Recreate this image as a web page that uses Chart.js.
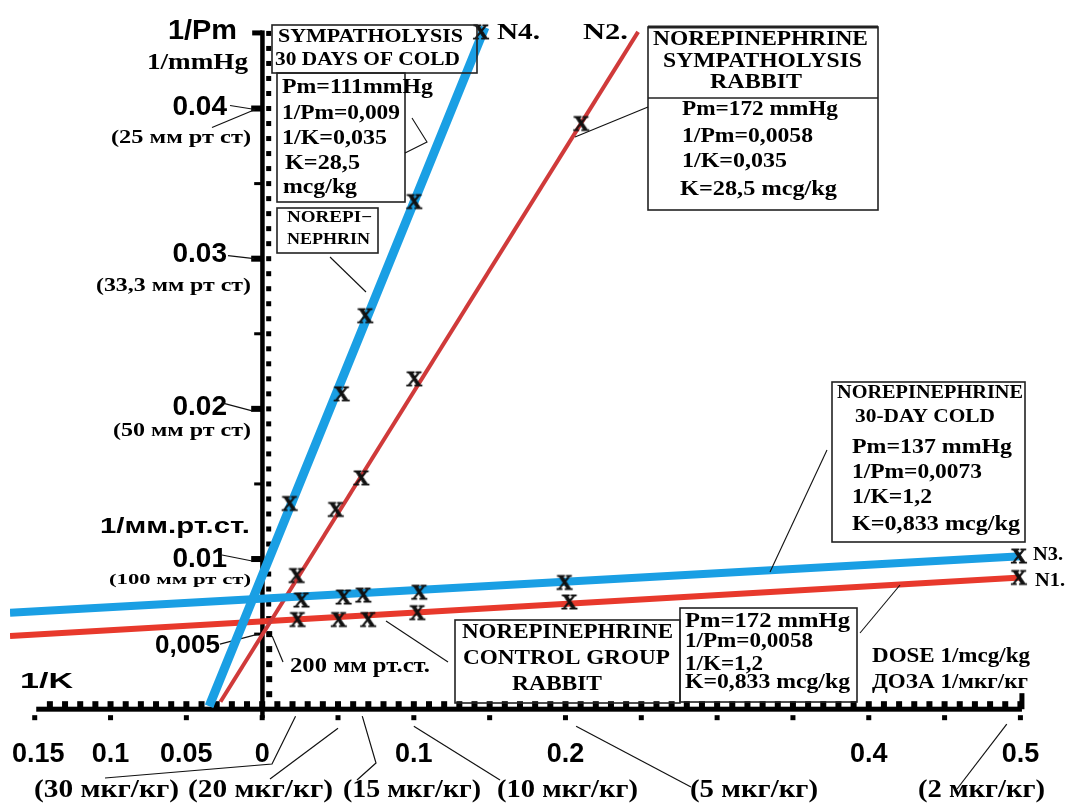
<!DOCTYPE html>
<html>
<head>
<meta charset="utf-8">
<script src="https://cdn.jsdelivr.net/npm/chart.js@4.4.0/dist/chart.umd.min.js"></script>
<style>
  html, body { margin: 0; padding: 0; background: #fff; }
  #wrap { width: 1080px; height: 805px; }
</style>
</head>
<body>
<div id="wrap"><canvas id="myChart" width="1080" height="805"></canvas></div>
<script>
// valores: x = 1/dosis (1/mcg/kg), y = 1/Pm (1/mmHg)
const n4X = [0.0181, 0.0524, 0.0680, 0.1003, 0.1443];
const n4Y = [0.0137, 0.0210, 0.0262, 0.0338, 0.0451];
const n2X = [0.0227, 0.0485, 0.0654, 0.1003, 0.2104];
const n2Y = [0.0089, 0.0133, 0.0154, 0.0220, 0.0390];
const n3X = [0.0259, 0.0537, 0.0667, 0.1036, 0.1994, 0.4990];
const n3Y = [0.00727, 0.00747, 0.00760, 0.00779, 0.00844, 0.01020];
const n1X = [0.0233, 0.0505, 0.0699, 0.1023, 0.2026, 0.4990];
const n1Y = [0.00597, 0.00597, 0.00597, 0.00643, 0.00714, 0.00877];

// rectas ajustadas (extremos tal como se ven)
const n4LineX = [-0.0350, 0.1469];
const n4LineY = [0.0002, 0.0454];
const n2LineX = [-0.0275, 0.2479];
const n2LineY = [0.0005, 0.0451];
const n3LineX = [-0.1663, 0.5003];
const n3LineY = [0.00643, 0.01019];
const n1LineX = [-0.1663, 0.5003];
const n1LineY = [0.00487, 0.00877];

// etiquetas de ejes
const xTicks = [-0.15, -0.1, -0.05, 0, 0.1, 0.2, 0.4, 0.5];
const xTickLabels = ['0.15', '0.1', '0.05', '0', '0.1', '0.2', '0.4', '0.5'];
const yTicks = [0.04, 0.03, 0.02, 0.01, 0.005];
const yTickLabels = ['0.04', '0.03', '0.02', '0.01', '0,005'];
const yMmLabels = ['(25 мм рт ст)', '(33,3 мм рт ст)', '(50 мм рт ст)', '(100 мм рт ст)'];
const doseTicks = [0.022, 0.05, 0.066, 0.1, 0.207, 0.491];
const doseLabels = ['(30 мкг/кг)', '(20 мкг/кг)', '(15 мкг/кг)', '(10 мкг/кг)', '(5 мкг/кг)', '(2 мкг/кг)'];

const BLUE = '#1a9fe4';
const RED_STEEP = '#d03a3a';
const RED_FLAT = '#e8392c';
const SERIF = '"Liberation Serif", "DejaVu Serif", serif';
const SANS = '"Liberation Sans", Arial, sans-serif';

// marca "X" como imagen para los puntos
const xMark = document.createElement('canvas');
xMark.width = 20;
xMark.height = 20;
const mc = xMark.getContext('2d');
mc.font = 'bold 22px ' + SERIF;
mc.textAlign = 'center';
mc.textBaseline = 'middle';
mc.fillStyle = '#111';
mc.strokeStyle = '#111';
mc.lineWidth = 0.9;
mc.fillText('X', 10, 11);
mc.strokeText('X', 10, 11);

const pts = (xs, ys) => xs.map((v, i) => ({ x: v, y: ys[i] }));

function put(ctx, s, x, y, w, font) {
  ctx.font = font;
  const m = ctx.measureText(s).width;
  ctx.save();
  ctx.translate(x, y);
  if (w) ctx.scale(w / m, 1);
  ctx.fillText(s, 0, 0);
  ctx.restore();
}

function path(ctx, p) {
  ctx.beginPath();
  ctx.moveTo(p[0][0], p[0][1]);
  for (let i = 1; i < p.length; i++) ctx.lineTo(p[i][0], p[i][1]);
  ctx.stroke();
}

// ejes dibujados a partir de las escalas del grafico
const axesPlugin = {
  id: 'axes',
  beforeDatasetsDraw(chart) {
    const { ctx, scales: { x, y } } = chart;
    const x0 = x.getPixelForValue(0);
    const y0 = y.getPixelForValue(0);
    ctx.save();
    ctx.fillStyle = '#000';
    const xl = x.getPixelForValue(-0.149);
    const xr = x.getPixelForValue(0.501);
    ctx.fillRect(xl, y0 - 2.5, xr - xl, 5);
    for (let i = -14; i <= 50; i++) {
      const px = x.getPixelForValue(i / 100);
      ctx.fillRect(px - 3, y0 - 8, 6, 6);
    }
    for (let i = -3; i <= 10; i++) {
      const px = x.getPixelForValue(i * 0.05);
      ctx.fillRect(px - 2.5, y0 + 6, 5, 5);
    }
    ctx.fillRect(xr - 2.5, y0 - 16, 5, 16);

    const yt = y.getPixelForValue(0.0452);
    ctx.fillRect(x0 - 2, yt, 4.5, y0 - yt + 9);
    ctx.fillRect(x0 - 10, yt, 10, 5);
    for (let i = 1; i <= 45; i++) {
      const py = y.getPixelForValue(i / 1000);
      const sz = i <= 6 ? 6 : 5;
      ctx.fillRect(x0 + 4, py - sz / 2, sz, sz);
    }
    for (let i = 1; i <= 8; i++) {
      const py = y.getPixelForValue(i * 0.005);
      if (i % 2 === 0) ctx.fillRect(x0 - 11, py - 3, 11, 6);
      else ctx.fillRect(x0 - 8, py - 1.5, 8, 3);
    }

    // etiquetas de ticks
    ctx.textBaseline = 'middle';
    ctx.font = 'bold 27px ' + SANS;
    xTicks.forEach((v, i) => {
      const w = ctx.measureText(xTickLabels[i]).width;
      let left = x.getPixelForValue(v) - w / 2;
      if (left < 12) left = 12;
      ctx.fillText(xTickLabels[i], left, 755);
    });
    const yDy = [-1, -4, -2, 0, 12];
    yTicks.forEach((v, i) => {
      ctx.font = (i === 4 ? 'bold 26px ' : 'bold 28px ') + SANS;
      const w = ctx.measureText(yTickLabels[i]).width;
      ctx.fillText(yTickLabels[i], (i === 4 ? 220 : 227) - w, y.getPixelForValue(v) + yDy[i]);
    });
    const mmDy = [30, 28, 22, 21];
    const mmW = [140, 155, 138, 142];
    yMmLabels.forEach((s, i) => {
      put(ctx, s, 251 - mmW[i], y.getPixelForValue(yTicks[i]) + mmDy[i], mmW[i],
        (i === 3 ? 'bold 15px ' : 'bold 18px ') + SERIF);
    });
    const doseLeft = [34, 188, 343, 497, 690, 918];
    const doseW = [145, 145, 138, 141, 128, 127];
    doseLabels.forEach((s, i) => put(ctx, s, doseLeft[i], 791, doseW[i], 'bold 25px ' + SERIF));

    // lineas guia
    ctx.strokeStyle = '#111';
    ctx.lineWidth = 1.2;
    const d = doseTicks.map(v => x.getPixelForValue(v));
    const ya = y0 + 7;
    path(ctx, [[d[0], ya], [272, 764], [105, 778]]);
    path(ctx, [[d[1], ya + 12], [270, 779]]);
    path(ctx, [[d[2], ya], [376, 763], [357, 780]]);
    path(ctx, [[d[3], ya + 10], [500, 780]]);
    path(ctx, [[d[4], ya + 10], [691, 787]]);
    path(ctx, [[d[5], ya + 8], [957, 789]]);
    const yp = yTicks.map(v => y.getPixelForValue(v));
    path(ctx, [[230, yp[0] - 3], [x0 - 7, yp[0] + 1]]);
    path(ctx, [[212, yp[0] + 19], [x0 - 7, yp[0] + 1]]);
    path(ctx, [[228, yp[1] - 3], [x0 - 8, yp[1]]]);
    path(ctx, [[222, yp[2] - 6], [x0 - 10, yp[2] + 2]]);
    path(ctx, [[222, yp[3] - 4], [x0 - 10, yp[3] + 2]]);
    path(ctx, [[220, yp[4] + 10], [x0 - 4, yp[4]]]);
    path(ctx, [[x0 + 10, yp[4] + 2], [283, 662]]);
    ctx.restore();
  }
};

// cuadros de texto
const notesPlugin = {
  id: 'notes',
  afterDatasetsDraw(chart) {
    const { ctx } = chart;
    ctx.save();
    ctx.strokeStyle = '#222';
    ctx.lineWidth = 1.6;
    [[272, 25, 205, 48], [277, 73, 128, 129], [277, 208, 101, 45], [648, 27, 230, 183],
     [832, 382, 193, 160], [455, 620, 225, 83], [680, 608, 177, 94]]
      .forEach(r => ctx.strokeRect(r[0], r[1], r[2], r[3]));
    path(ctx, [[648, 98], [878, 98]]);
    ctx.lineWidth = 3;
    path(ctx, [[648, 27], [878, 27]]);

    ctx.lineWidth = 1.1;
    ctx.strokeStyle = '#111';
    path(ctx, [[405, 153], [427, 142], [412, 118]]);
    path(ctx, [[330, 257], [366, 292]]);
    path(ctx, [[648, 107], [575, 137]]);
    path(ctx, [[827, 450], [770, 572]]);
    path(ctx, [[448, 662], [386, 621]]);
    path(ctx, [[860, 633], [900, 585]]);

    ctx.fillStyle = '#000';
    ctx.textBaseline = 'middle';
    const s = n => 'bold ' + n + 'px ' + SERIF;
    const a = n => 'bold ' + n + 'px ' + SANS;
    const notes = [
      ['1/Pm', 168, 31, 69, a(28)],
      ['1/mmHg', 147, 63, 101, s(24)],
      ['1/мм.рт.ст.', 100, 527, 150, a(22)],
      ['1/K', 20, 682, 53, a(22)],
      ['200 мм рт.ст.', 290, 666, 140, s(22)],
      ['DOSE 1/mcg/kg', 872, 657, 158, s(20)],
      ['ДОЗА 1/мкг/кг', 872, 683, 156, s(20)],
      ['N4.', 497, 33, 43, s(24)],
      ['N2.', 583, 33, 45, s(24)],
      ['N3.', 1033, 555, 30, s(19)],
      ['N1.', 1035, 581, 30, s(19)],
      ['SYMPATHOLYSIS', 278, 37, 185, s(19)],
      ['30 DAYS OF COLD', 275, 60, 185, s(19)],
      ['Pm=111mmHg', 282, 87, 151, s(22)],
      ['1/Pm=0,009', 282, 113, 118, s(22)],
      ['1/K=0,035', 282, 138, 105, s(22)],
      ['K=28,5', 285, 163, 75, s(22)],
      ['mcg/kg', 283, 187, 74, s(22)],
      ['NOREPI\u2212', 287, 218, 85, s(16)],
      ['NEPHRIN', 287, 240, 83, s(16)],
      ['NOREPINEPHRINE', 653, 40, 215, s(20)],
      ['SYMPATHOLYSIS', 663, 62, 199, s(20)],
      ['RABBIT', 710, 83, 92, s(20)],
      ['Pm=172 mmHg', 682, 110, 156, s(21)],
      ['1/Pm=0,0058', 682, 137, 131, s(21)],
      ['1/K=0,035', 682, 162, 105, s(21)],
      ['K=28,5 mcg/kg', 680, 190, 157, s(21)],
      ['NOREPINEPHRINE', 837, 393, 186, s(18)],
      ['30-DAY COLD', 855, 417, 140, s(18)],
      ['Pm=137 mmHg', 852, 448, 160, s(20)],
      ['1/Pm=0,0073', 852, 473, 130, s(20)],
      ['1/K=1,2', 852, 498, 80, s(20)],
      ['K=0,833 mcg/kg', 852, 525, 168, s(20)],
      ['NOREPINEPHRINE', 462, 633, 211, s(21)],
      ['CONTROL GROUP', 463, 659, 207, s(21)],
      ['RABBIT', 512, 685, 90, s(21)],
      ['Pm=172 mmHg', 685, 622, 165, s(20)],
      ['1/Pm=0,0058', 685, 642, 128, s(20)],
      ['1/K=1,2', 685, 665, 78, s(20)],
      ['K=0,833 mcg/kg', 685, 683, 165, s(20)]
    ];
    notes.forEach(n => put(ctx, n[0], n[1], n[2], n[3], n[4]));
    ctx.restore();
  }
};

const marks = (xs, ys) => ({
  data: pts(xs, ys), showLine: false, pointStyle: xMark, pointRadius: 9, order: 0
});
const line = (xs, ys, color, width, order) => ({
  data: pts(xs, ys), showLine: true, borderColor: color, borderWidth: width,
  pointRadius: 0, order: order
});

const ctx = document.getElementById('myChart').getContext('2d');
const myChart = new Chart(ctx, {
  type: 'scatter',
  data: {
    datasets: [
      marks(n4X, n4Y),
      marks(n2X, n2Y),
      marks(n3X, n3Y),
      marks(n1X, n1Y),
      line(n4LineX, n4LineY, BLUE, 9, 1),
      line(n3LineX, n3LineY, BLUE, 8, 1),
      line(n2LineX, n2LineY, RED_STEEP, 4, 2),
      line(n1LineX, n1LineY, RED_FLAT, 6, 2)
    ]
  },
  options: {
    responsive: false,
    animation: false,
    devicePixelRatio: 1,
    events: [],
    layout: { padding: 0 },
    plugins: { legend: { display: false }, tooltip: { enabled: false } },
    scales: {
      x: { type: 'linear', min: -0.1663, max: 0.5327, display: false },
      y: { type: 'linear', min: -0.005714, max: 0.04656, display: false }
    }
  },
  plugins: [axesPlugin, notesPlugin]
});
</script>
</body>
</html>
